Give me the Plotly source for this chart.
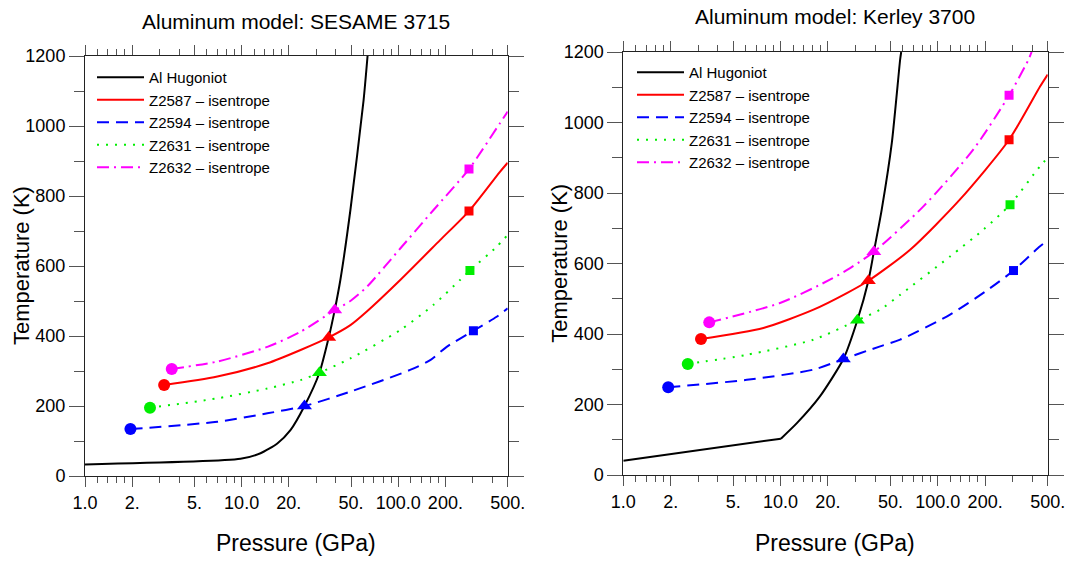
import math
import plotly.graph_objects as go

# ---------------- data ----------------
# Left panel: SESAME 3715 model
ses_hug_p = [1.0, 9.84, 13.2, 16.9, 20.5, 25.2, 31.4, 36.0, 39.3, 42.7, 49.5, 60.1, 63.7]
ses_hug_t = [33, 49, 65, 93, 131, 200, 295, 396, 474, 560, 760, 1074, 1200]

ses_z2587_p = [3.2, 7.0, 14.6, 23.8, 36.0, 49.5, 63.0, 103, 185, 283, 446, 500]
ses_z2587_t = [260, 284, 322, 360, 396, 431, 470, 560, 674, 757, 869, 895]

ses_z2594_p = [1.95, 7.0, 14.6, 25.2, 49.5, 119, 160, 204, 302, 425, 500]
ses_z2594_t = [134, 155, 179, 200, 241, 303, 331, 369, 415, 455, 479]

ses_z2631_p = [2.6, 7.0, 14.6, 23.8, 31.4, 49.5, 103, 168, 248, 287, 425, 500]
ses_z2631_t = [195, 222, 250, 274, 295, 336, 417, 489, 560, 587, 655, 689]

ses_z2632_p = [3.58, 7.0, 14.6, 23.8, 39.3, 49.5, 63.2, 103, 168, 283, 446, 500]
ses_z2632_t = [306, 327, 369, 412, 474, 500, 541, 650, 760, 877, 1008, 1041]

# crossing with the Hugoniot (triangles) and peak states (squares), order: 2587, 2594, 2631, 2632
ses_cross_p = [36.0, 25.2, 31.4, 39.3]
ses_cross_t = [396, 200, 295, 474]
ses_peak_p = [283, 302, 287, 283]
ses_peak_t = [757, 415, 587, 877]

# Right panel: Kerley 3700 model
ker_hug_p = [1.0, 10.05, 12.7, 17.8, 25.1, 30.8, 36.2, 39.2, 44.0, 51.0, 57.6, 58.5]
ker_hug_t = [40.6, 103, 147, 223, 329, 439, 551, 633, 753, 942, 1178, 1200]

ker_z2587_p = [3.12, 7.78, 16.2, 26.4, 36.2, 66.7, 138, 284, 447, 500]
ker_z2587_t = [386, 417, 469, 516, 551, 639, 781, 951, 1102, 1136]

ker_z2594_p = [1.93, 6.1, 16.2, 25.1, 43.0, 57.6, 119.7, 215, 303, 447, 500]
ker_z2594_t = [249, 270, 299, 329, 365, 384, 455, 530, 580, 649, 665]

ker_z2631_p = [2.57, 6.1, 16.2, 30.8, 43.0, 57.6, 119.7, 195, 288, 447, 500]
ker_z2631_t = [315, 341, 384, 439, 469, 511, 620, 696, 767, 876, 900]

ker_z2632_p = [3.52, 9.93, 20.6, 27.7, 39.2, 81.0, 168, 284, 377, 395]
ker_z2632_t = [433, 488, 554, 587, 633, 762, 923, 1077, 1178, 1200]

ker_cross_p = [36.2, 25.1, 30.8, 39.2]
ker_cross_t = [551, 329, 439, 633]
ker_peak_p = [284, 303, 288, 284]
ker_peak_t = [951, 580, 767, 1077]

series_names = ["Z2587 \u2013 isentrope", "Z2594 \u2013 isentrope",
                "Z2631 \u2013 isentrope", "Z2632 \u2013 isentrope"]
series_colors = ["#ff0000", "#0000ff", "#00ee00", "#ff00ff"]
series_dash = ["solid", "12px,7px", "2px,7px", "12px,5px,2px,5px"]

panel_titles = ["Aluminum model: SESAME 3715", "Aluminum model: Kerley 3700"]
x_title = "Pressure (GPa)"
y_title = "Temperature (K)"

x_tick_vals = [1, 2, 5, 10, 20, 50, 100, 200, 500]
x_tick_text = ["1.0", "2.", "5.", "10.0", "20.", "50.", "100.0", "200.", "500."]
x_decades = [1, 10, 100]
x_mid = [1.2, 1.4, 1.6, 1.8, 3, 4, 6, 7, 8, 9,
         12, 14, 16, 18, 30, 40, 60, 70, 80, 90,
         120, 140, 160, 180, 300, 400]
x_short = [2.5, 3.5, 4.5, 25, 35, 45, 250, 350, 450]
y_major = list(range(0, 1201, 200))
y_half = list(range(50, 1200, 100))

# ---------------- figure ----------------
FONT = "Liberation Sans, Arial, Helvetica, sans-serif"
W, H = 1067, 561

panels = [
    dict(hug=(ses_hug_p, ses_hug_t), hug_split=0,
         iso=[(ses_z2587_p, ses_z2587_t), (ses_z2594_p, ses_z2594_t),
              (ses_z2631_p, ses_z2631_t), (ses_z2632_p, ses_z2632_t)],
         cross=(ses_cross_p, ses_cross_t), peak=(ses_peak_p, ses_peak_t),
         xd=[85 / W, 507.7 / W], yd=[(H - 476) / H, (H - 56) / H],
         legend="legend"),
    # the Kerley Hugoniot has a sharp corner at 10 GPa: straight part drawn separately
    dict(hug=(ker_hug_p, ker_hug_t), hug_split=1,
         iso=[(ker_z2587_p, ker_z2587_t), (ker_z2594_p, ker_z2594_t),
              (ker_z2631_p, ker_z2631_t), (ker_z2632_p, ker_z2632_t)],
         cross=(ker_cross_p, ker_cross_t), peak=(ker_peak_p, ker_peak_t),
         xd=[623.3 / W, 1047.7 / W], yd=[(H - 475) / H, (H - 52) / H],
         legend="legend2"),
]

fig = go.Figure()
layout = {}
annotations = []

for i, pn in enumerate(panels):
    xa = "x" if i == 0 else "x2"
    ya = "y" if i == 0 else "y2"
    xkey = "xaxis" if i == 0 else "xaxis2"
    ykey = "yaxis" if i == 0 else "yaxis2"
    grp = "hug%d" % i

    hp, ht = pn["hug"]
    s = pn["hug_split"]
    fig.add_trace(go.Scatter(x=hp[s:], y=ht[s:], mode="lines", name="Al Hugoniot",
                             legendgroup=grp,
                             line=dict(color="black", width=2, shape="spline",
                                       smoothing=0.6),
                             xaxis=xa, yaxis=ya, legend=pn["legend"]))
    if s > 0:
        fig.add_trace(go.Scatter(x=hp[:s + 1], y=ht[:s + 1], mode="lines",
                                 legendgroup=grp, showlegend=False,
                                 line=dict(color="black", width=2),
                                 xaxis=xa, yaxis=ya, legend=pn["legend"]))
    for k, (px, ty) in enumerate(pn["iso"]):
        fig.add_trace(go.Scatter(x=px, y=ty, mode="lines", name=series_names[k],
                                 line=dict(color=series_colors[k], width=2,
                                           dash=series_dash[k], shape="spline",
                                           smoothing=0.7),
                                 xaxis=xa, yaxis=ya, legend=pn["legend"]))
    for k, (px, ty) in enumerate(pn["iso"]):
        c = series_colors[k]
        fig.add_trace(go.Scatter(x=[px[0]], y=[ty[0]], mode="markers", showlegend=False,
                                 marker=dict(symbol="circle", size=12, color=c),
                                 xaxis=xa, yaxis=ya))
        fig.add_trace(go.Scatter(x=[pn["cross"][0][k]], y=[pn["cross"][1][k]],
                                 mode="markers", showlegend=False,
                                 marker=dict(symbol="triangle-up", size=13, color=c),
                                 xaxis=xa, yaxis=ya))
        fig.add_trace(go.Scatter(x=[pn["peak"][0][k]], y=[pn["peak"][1][k]],
                                 mode="markers", showlegend=False,
                                 marker=dict(symbol="square", size=9, color=c),
                                 xaxis=xa, yaxis=ya))

    common_x = dict(type="log", range=[0, math.log10(500)], showgrid=False,
                    zeroline=False, ticks="outside", tickwidth=1, tickcolor="#555",
                    automargin=False)
    common_y = dict(range=[0, 1200], showgrid=False, zeroline=False,
                    ticks="outside", tickwidth=1, tickcolor="#555", automargin=False)

    layout[xkey] = dict(common_x, domain=pn["xd"], anchor=ya, showline=True,
                        linecolor="#222", linewidth=1, mirror="ticks",
                        tickmode="array", tickvals=x_tick_vals, ticktext=x_tick_text,
                        ticklen=10, tickfont=dict(family=FONT, size=18, color="black"),
                        minor=dict(tickmode="array", tickvals=x_mid, ticks="outside",
                                   ticklen=6, tickwidth=1, tickcolor="#555"))
    layout[ykey] = dict(common_y, domain=pn["yd"], anchor=xa, showline=True,
                        linecolor="#222", linewidth=1, mirror="ticks",
                        tickmode="array", tickvals=y_major, ticklen=15,
                        tickfont=dict(family=FONT, size=18, color="black"),
                        minor=dict(dtick=100, tick0=0, ticks="outside", ticklen=10,
                                   tickwidth=1, tickcolor="#555"))
    # overlay axes: longer decade ticks and short half-step ticks
    layout["xaxis3" if i == 0 else "xaxis4"] = dict(
        common_x, overlaying=xa, anchor=ya, showline=False, mirror="ticks",
        tickmode="array", tickvals=x_decades, ticklen=15, showticklabels=False,
        minor=dict(tickmode="array", tickvals=x_short, ticks="outside", ticklen=3,
                   tickwidth=1, tickcolor="#555"))
    layout["yaxis3" if i == 0 else "yaxis4"] = dict(
        common_y, overlaying=ya, anchor=xa, showline=False, mirror="ticks",
        tickmode="array", tickvals=y_half, ticklen=5, showticklabels=False)

    cx = (pn["xd"][0] + pn["xd"][1]) / 2
    annotations.append(dict(text=panel_titles[i], x=cx, y=pn["yd"][1] + 35 / H,
                            xref="paper", yref="paper", showarrow=False,
                            xanchor="center", yanchor="middle",
                            font=dict(family=FONT, size=21, color="black")))
    annotations.append(dict(text=x_title, x=cx, y=(H - 543) / H,
                            xref="paper", yref="paper", showarrow=False,
                            xanchor="center", yanchor="middle",
                            font=dict(family=FONT, size=23, color="black")))
    annotations.append(dict(text=y_title, x=pn["xd"][0] - 64 / W,
                            y=(pn["yd"][0] + pn["yd"][1]) / 2,
                            xref="paper", yref="paper", showarrow=False, textangle=-90,
                            xanchor="center", yanchor="middle",
                            font=dict(family=FONT, size=22, color="black")))

leg_common = dict(xanchor="left", yanchor="top", bgcolor="rgba(0,0,0,0)",
                  borderwidth=0, tracegroupgap=0, itemwidth=47,
                  font=dict(family=FONT, size=15, color="black"))

fig.update_layout(
    template="none",
    width=W, height=H, autosize=False,
    margin=dict(l=0, r=0, t=0, b=0, pad=0),
    paper_bgcolor="white", plot_bgcolor="white",
    showlegend=True,
    legend=dict(leg_common, x=92 / W, y=(H - 61) / H),
    legend2=dict(leg_common, x=632 / W, y=(H - 56) / H),
    annotations=annotations,
    **layout,
)

fig.write_html("out.html")
